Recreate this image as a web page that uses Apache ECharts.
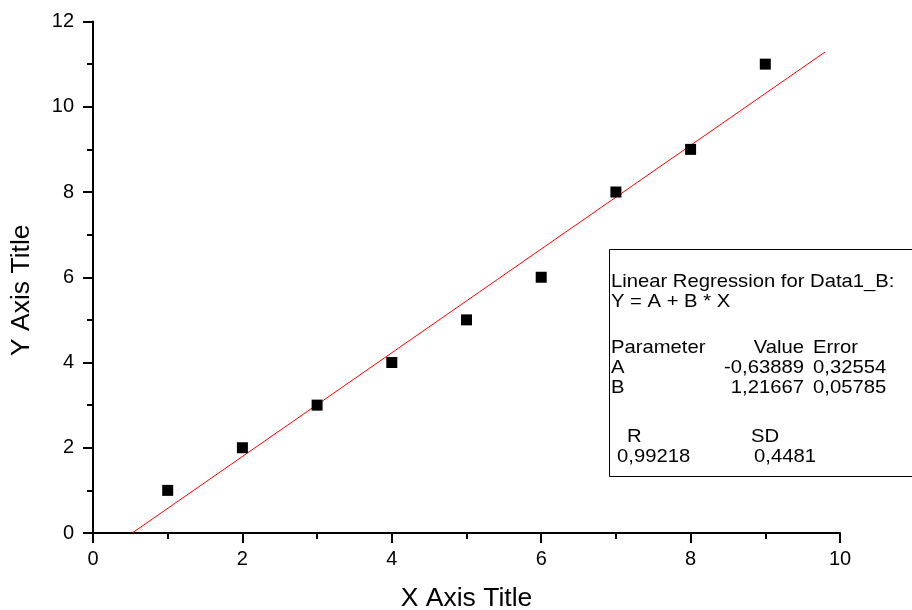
<!DOCTYPE html>
<html><head><meta charset="utf-8">
<script src="https://cdn.jsdelivr.net/npm/echarts@6/dist/echarts.min.js"></script>
<style>html,body{margin:0;padding:0;background:#fff}#c{width:912px;height:610px}</style>
</head><body><div id="c"></div>
<script>
var xValues = [1, 2, 3, 4, 5, 6, 7, 8, 9];
var yValues = [1, 2, 3, 4, 5, 6, 8, 9, 11];
var fitA = -0.63889;
var fitB = 1.21667;
var fitRange = [0.525, 9.8];
var boxLines = [
  ['Linear Regression for Data1_B:'],
  ['Y = A + B * X'],
  [],
  ['Parameter', 'Value', 'Error'],
  ['A', '-0,63889', '0,32554'],
  ['B', '1,21667', '0,05785'],
  [],
  ['R', 'SD'],
  ['0,99218', '0,4481']
];

var font = 'Liberation Sans, Arial, sans-serif';
var scatterData = xValues.map(function (x, i) { return [x, yValues[i]]; });
var fitData = fitRange.map(function (x) { return [x, fitA + fitB * x]; });

var chart = echarts.init(document.getElementById('c'));
var fs = 19;
function t(x, y, s, align) {
  return { type: 'text', x: x, y: y, z: 11, scaleX: 1.065, style: { text: s, font: fs + 'px ' + font, fill: '#000', textAlign: align || 'left', textVerticalAlign: 'middle' } };
}
var gfx = [{ type: 'rect', shape: { x: 609.5, y: 249.5, width: 320, height: 227 }, style: { fill: '#fff', stroke: '#000', lineWidth: 1 }, z: 10 }];
var ys = [282, 302, 0, 348, 368, 388, 0, 437, 457];
gfx.push(t(611, ys[0], boxLines[0][0]));
gfx.push(t(611, ys[1], boxLines[1][0]));
gfx.push(t(611, ys[3], boxLines[3][0]));
gfx.push(t(804, ys[3], boxLines[3][1], 'right'));
gfx.push(t(813, ys[3], boxLines[3][2]));
gfx.push(t(611, ys[4], boxLines[4][0]));
gfx.push(t(804, ys[4], boxLines[4][1], 'right'));
gfx.push(t(813, ys[4], boxLines[4][2]));
gfx.push(t(611, ys[5], boxLines[5][0]));
gfx.push(t(804, ys[5], boxLines[5][1], 'right'));
gfx.push(t(813, ys[5], boxLines[5][2]));
gfx.push(t(627, ys[7], boxLines[7][0]));
gfx.push(t(751, ys[7], boxLines[7][1]));
gfx.push(t(617, ys[8], boxLines[8][0]));
gfx.push(t(754, ys[8], boxLines[8][1]));

var axisCommon = {
  axisLine: { show: true, onZero: false, lineStyle: { color: '#000', width: 2 } },
  axisTick: { show: true, inside: false, length: 10, lineStyle: { color: '#000', width: 2 } },
  minorTick: { show: true, splitNumber: 2, length: 6, lineStyle: { color: '#000', width: 2 } },
  splitLine: { show: false },
  axisLabel: { color: '#000', fontSize: 20, fontFamily: font },
  nameTextStyle: { color: '#000', fontSize: 26.5, fontFamily: font }
};

chart.setOption({
  animation: false,
  backgroundColor: '#fff',
  grid: { left: 93, right: 72, top: 21.5, bottom: 77, containLabel: false, outerBoundsMode: 'none' },
  xAxis: Object.assign({}, axisCommon, {
    type: 'value', min: 0, max: 10, interval: 2,
    name: 'X Axis Title', nameLocation: 'middle', nameGap: 52,
    axisLabel: Object.assign({}, axisCommon.axisLabel, { margin: 16 })
  }),
  yAxis: Object.assign({}, axisCommon, {
    type: 'value', min: 0, max: 12, interval: 2,
    name: 'Y Axis Title', nameLocation: 'middle', nameGap: 58,
    nameTextStyle: Object.assign({}, axisCommon.nameTextStyle, { padding: [0, 26, 0, 0] }),
    axisLabel: Object.assign({}, axisCommon.axisLabel, { margin: 19 })
  }),
  series: [
    { type: 'line', data: fitData, showSymbol: false, lineStyle: { color: '#ff0000', width: 1 }, z: 2 },
    { type: 'scatter', data: scatterData, symbol: 'rect', symbolSize: 11, itemStyle: { color: '#000', opacity: 1 }, z: 3 }
  ],
  graphic: gfx
});
</script></body></html>
